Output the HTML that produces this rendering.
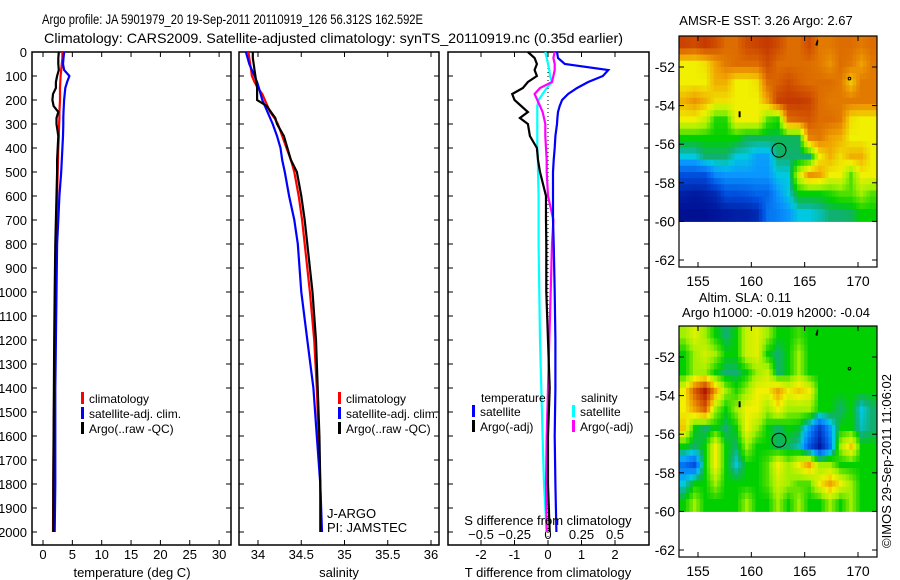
<!DOCTYPE html>
<html><head><meta charset="utf-8"><style>
body{margin:0;background:#fff;}
svg{display:block;font-family:"Liberation Sans",sans-serif;}
</style></head><body>
<svg id="c" width="900" height="580" viewBox="0 0 900 580">
<text x="42" y="24" font-size="14" textLength="381" lengthAdjust="spacingAndGlyphs">Argo profile: JA 5901979_20 19-Sep-2011 20110919_126 56.312S 162.592E</text>
<text x="44" y="43" font-size="14" textLength="579" lengthAdjust="spacingAndGlyphs">Climatology: CARS2009. Satellite-adjusted climatology: synTS_20110919.nc (0.35d earlier)</text>
</svg>
<script>
const depths=[0,25,50,75,100,125,150,175,200,225,250,275,300,350,400,450,500,600,700,800,1000,1200,1400,1600,1800,2000];
const tClim=[3.3,3.3,3.2,3.1,3.0,2.95,2.9,2.9,2.9,2.85,2.8,2.8,2.75,2.7,2.6,2.55,2.5,2.4,2.3,2.2,2.1,2.0,1.9,1.8,1.75,1.7];
const tSat=[3.6,3.5,3.4,3.6,4.5,4.1,3.8,3.7,3.6,3.55,3.5,3.45,3.45,3.4,3.3,3.2,3.1,2.8,2.6,2.4,2.3,2.2,2.1,2.1,2.1,2.0];
const tArgo=[2.7,2.6,2.6,2.7,2.4,2.2,2.2,1.7,1.6,1.8,2.6,2.3,2.3,2.6,2.5,2.4,2.4,2.3,2.2,2.1,2.0,1.9,1.85,1.8,1.75,1.75];
const sClim=[33.89,33.9,33.91,33.92,33.93,33.96,34.0,34.05,34.08,34.11,34.14,34.19,34.23,34.28,34.33,34.38,34.42,34.47,34.51,34.54,34.6,34.65,34.68,34.7,34.72,34.73];
const sSat=[33.86,33.88,33.9,33.93,33.96,33.99,34.01,34.03,34.05,34.08,34.11,34.14,34.17,34.22,34.26,34.28,34.31,34.36,34.42,34.46,34.5,34.57,34.64,34.68,34.72,34.74];
const sArgo=[33.94,33.94,33.95,33.96,33.97,33.98,33.99,33.99,33.99,34.1,34.15,34.2,34.22,34.3,34.34,34.38,34.45,34.5,34.54,34.57,34.63,34.67,34.69,34.71,34.72,34.72];
const dTSat=[0.27,0.3,0.5,1.8,1.64,1.2,0.87,0.6,0.42,0.35,0.3,0.28,0.27,0.22,0.2,0.17,0.15,0.15,0.15,0.17,0.2,0.22,0.22,0.2,0.22,0.25];
const dTArgo=[-0.6,-0.4,-0.33,-0.4,-0.33,-0.6,-0.75,-1.07,-1.0,-0.8,-0.6,-0.84,-0.6,-0.54,-0.33,-0.3,-0.24,-0.06,-0.06,-0.05,-0.05,0,0.05,0,0,0.05];
const dSArgo=[0.05,0.04,0.05,0.05,0.04,0.03,-0.06,-0.1,-0.08,-0.06,-0.04,-0.03,-0.02,-0.02,-0.015,-0.01,-0.01,0.0,0.04,0.03,0.02,0.01,0,-0.01,-0.015,-0.01];
const dSSat=[-0.02,-0.01,0,0.01,0.015,0.03,-0.01,-0.04,-0.07,-0.08,-0.08,-0.08,-0.08,-0.08,-0.08,-0.075,-0.075,-0.07,-0.07,-0.07,-0.065,-0.06,-0.05,-0.04,-0.03,-0.01];
const depthTicks=[0,100,200,300,400,500,600,700,800,900,1000,1100,1200,1300,1400,1500,1600,1700,1800,1900,2000];
const tempTicks=[0,5,10,15,20,25,30];
const salTicks=[34,34.5,35,35.5,36];
const dTTicks=[-2,-1,0,1,2];
const dSTicks=[-0.5,-0.25,0,0.25,0.5];
const dSLabels=['\u22120.5','\u22120.25','0','0.25','0.5'];
const sstGrid=[
[8.6,8.4,8.8,8.4,7.8,7.8,8.4,8.6,8.8,8.4,7.8,7.8,8.4,7.6,7.6,7.8,7.8,7.6,7.8],
[6,6,6.2,7,7.6,7.8,7.8,7.8,8.4,7.8,7.8,7.8,7.8,7.6,7.2,7.8,7.6,7,7.6],
[6,6,6,6.8,6.8,6,6,6.2,7.8,8,8.4,8,7.8,7.8,7.8,7.6,6.5,7.6,7.6],
[6.8,7.2,6.8,6.2,6.2,6,6,6,7,8.6,8.8,8.8,8.6,7.8,7.6,7.6,7.6,7.6,7.6],
[6,6,5.5,4.2,4.2,6,6,6,4.5,4.2,7.8,8,8.2,7.8,7.8,7.6,6.2,6,6],
[4,4,4,4,4,4,3.6,3.6,3.6,3.6,3.6,3.6,7.4,7.6,7,6.8,6,6,6],
[3,3,3.5,3.5,3.5,3,3,2.6,2.6,3.5,3.5,3.5,3.5,6,6.8,6.2,6.8,6.8,6],
[1.5,1.5,1.5,2.3,2.5,2.5,2.5,2.5,2.5,3,3,5.5,7.2,7,6,6,4.5,6,6],
[0.6,0.5,0.6,0.8,1.5,1.5,1.6,1.8,1.8,2.5,3,4,4,4,4.2,4.5,4.5,5,4.5],
[0.3,0.3,0.3,0.4,0.5,0.6,0.6,0.8,2,2.2,2.5,3,3,3.2,3.5,3.5,3.6,4,4]];
const slaGrid=[
[5,5.8,5,4,3.5,4,5.5,5.8,5,4,4,4.4,4,4,4,4,4,4,4],
[4,5,5.6,5,4,4,5.5,5.8,4,3.5,4,5,4,4,4,4,4,4,4],
[4,5,5,4,3.5,3.5,4,5,5.5,3.5,4,5,4,4,4,4,4,4,4],
[6,8,9.5,7,5,4.2,5,6,6,7,6,6.5,6,4,4,4,4,4,4],
[6,7,8,5,4,5,6,6,5,6,5,5,5,4,4,3.5,4,3,3.5],
[6.5,4,3.5,4,3.5,4,6,5,4,3.5,4,3.8,2.5,1.2,2.5,4,4,3.2,3.5],
[4,3.5,4,6,4,3.5,5,4,4,3.6,3.6,3.2,1.6,0.5,2,5,6.5,4,4],
[2,1.5,4,6,4,3,4,4,4.5,6,5,6,7,5,5,4,4,4,4],
[3,4,4,5,4,4,4,4,4.5,5.5,5,4.5,4.5,6,7,6,5,4,4],
[4,5,4,4,4,4,5,4,4,5,4,5,4,4,5,4,5,4,4]];
const lonTicks=[155,160,165,170];
const latTicks=[-52,-54,-56,-58,-60,-62];
const argoLon=162.592, argoLat=-56.312;

const S=document.getElementById('c');const NS='http://www.w3.org/2000/svg';
function mk(t,a,p){const e=document.createElementNS(NS,t);for(const k in a)e.setAttribute(k,a[k]);(p||S).appendChild(e);return e;}
function txt(x,y,s,anchor,fs){const e=mk('text',{x:x,y:y,'font-size':fs||13,'text-anchor':anchor||'start'});e.textContent=s;return e;}
const yD=d=>52+0.24*d;
const BOT=545;
function panel(x0,x1,name){const r=mk('rect',{x:x0,y:52,width:x1-x0,height:BOT-52,fill:'none',stroke:'#000','stroke-width':1.5});


depthTicks.forEach(d=>{mk('line',{x1:x0,x2:x0+5,y1:yD(d),y2:yD(d),stroke:'#000'});mk('line',{x1:x1-5,x2:x1,y1:yD(d),y2:yD(d),stroke:'#000'});});}
function series(xf,vals,color,name,w){let p='';vals.forEach((v,i)=>{p+=(i?'L':'M')+xf(v).toFixed(1)+','+yD(depths[i]).toFixed(1);});
const e=mk('path',{d:p,fill:'none',stroke:color,'stroke-width':w||2.2});

}
function xticks(x0,x1,ticks,xf,fmt,ylab,name){ticks.forEach(t=>{const x=xf(t);mk('line',{x1:x,x2:x,y1:BOT-5,y2:BOT,stroke:'#000'});mk('line',{x1:x,x2:x,y1:52,y2:57,stroke:'#000'});
const e=txt(x,ylab,fmt(t),'middle');

});}
function legend(x,y,items){items.forEach((it,i)=>{mk('rect',{x:x,y:y+i*15-11,width:3,height:12,fill:it[0]});const e=txt(x+8,y+i*15,it[1],'start',12);

});}

depthTicks.forEach(d=>{const e=txt(27,yD(d)+5,String(d),'end',13);

});

const xT=t=>43+5.87*t;
panel(32,231,'temperature-panel');
xticks(32,231,tempTicks,xT,String,559,'temp-tick-label');
series(xT,tClim,'#f00','temp-climatology');series(xT,tSat,'#00f','temp-satellite');series(xT,tArgo,'#000','temp-argo');
let e=txt(132,577,'temperature (deg C)','middle');
legend(81,403,[['#f00','climatology'],['#00f','satellite-adj. clim.'],['#000','Argo(..raw -QC)']]);

const xS=s=>258+86.5*(s-34);
panel(239,439,'salinity-panel');
xticks(239,439,salTicks,xS,String,559,'sal-tick-label');
series(xS,sClim,'#f00','sal-climatology');series(xS,sSat,'#00f','sal-satellite');series(xS,sArgo,'#000','sal-argo');
e=txt(339,577,'salinity','middle');
legend(338,403,[['#f00','climatology'],['#00f','satellite-adj. clim.'],['#000','Argo(..raw -QC)']]);
e=txt(327,518,'J-ARGO','start',13);
e=txt(327,532,'PI: JAMSTEC','start',13);

const xDT=t=>548+33.5*t, xDS=s=>548+134*s;
panel(448,649,'difference-panel');
mk('line',{x1:548,x2:548,y1:52,y2:BOT,stroke:'#000','stroke-dasharray':'1,3'});
xticks(448,649,dTTicks,xDT,String,559,'dT-tick-label');
dSTicks.forEach((t,i)=>{const e=txt(xDS(t),539,dSLabels[i],'middle',13);

});
series(xDS,dSSat,'#0ff','dS-satellite');series(xDS,dSArgo,'#f0f','dS-argo');
series(xDT,dTSat,'#00f','dT-satellite');series(xDT,dTArgo,'#000','dT-argo');
e=txt(548,525,'S difference from climatology','middle',13);
e=txt(548,577,'T difference from climatology','middle',13);
e=txt(481,402,'temperature','start',12);
e=txt(581,402,'salinity','start',12);
legend(472,416,[['#00f','satellite'],['#000','Argo(-adj)']]);
legend(572,416,[['#0ff','satellite'],['#f0f','Argo(-adj)']]);

const stops=[[0,[0,0,128]],[1.5,[0,80,224]],[2.5,[10,150,255]],[3,[0,200,224]],[3.5,[16,176,112]],[4,[0,208,0]],[5,[160,240,0]],[6,[240,240,0]],[7,[240,160,0]],[8,[216,96,0]],[9,[192,48,0]],[10,[160,0,0]]];
function col(v){for(let i=1;i<stops.length;i++){if(v<=stops[i][0]){const a=stops[i-1],b=stops[i],f=(v-a[0])/(b[0]-a[0]);return 'rgb('+a[1].map((c,k)=>Math.round(c+(b[1][k]-c)*f)).join(',')+')';}}return 'rgb(160,0,0)';}
function sample(grid,fr,fc){const R=grid.length,C=grid[0].length;
 fr=Math.max(0,Math.min(R-1,fr));fc=Math.max(0,Math.min(C-1,fc));
 const r0=Math.floor(fr),c0=Math.floor(fc),r1=Math.min(R-1,r0+1),c1=Math.min(C-1,c0+1),a=fr-r0,b=fc-c0;
 return grid[r0][c0]*(1-a)*(1-b)+grid[r0][c1]*(1-a)*b+grid[r1][c0]*a*(1-b)+grid[r1][c1]*a*b;}
function map(y0,grid,name){
 const X0=679,X1=877,Y1=y0+231;
 const xL=lon=>698+(lon-155)*10.667, yL=lat=>y0+31+(-52-lat)*19.3;
 const R=grid.length,C=grid[0].length,SUB=3;
 const cw=(X1-X0)/(C*SUB), ch=(yL(-60)-y0)/(R*SUB);
 const g=mk('g',{});
 
 
 for(let r=0;r<R*SUB;r++)for(let c=0;c<C*SUB;c++){
  const v=sample(grid,(r+0.5)/SUB-0.5,(c+0.5)/SUB-0.5);
  const cell=mk('rect',{x:(X0+c*cw).toFixed(2),y:(y0+r*ch).toFixed(2),width:(cw+0.5).toFixed(2),height:(ch+0.5).toFixed(2),fill:col(v)},g);
  
  }
 mk('rect',{x:X0,y:y0,width:X1-X0,height:Y1-y0,fill:'none',stroke:'#000','stroke-width':1.2});
 lonTicks.forEach(l=>{const x=xL(l);mk('line',{x1:x,x2:x,y1:y0,y2:y0+5,stroke:'#000'});mk('line',{x1:x,x2:x,y1:Y1-5,y2:Y1,stroke:'#000'});
 const t=txt(x,Y1+19,String(l),'middle',14);});
 latTicks.forEach(l=>{const y=yL(l);mk('line',{x1:X0,x2:X0+5,y1:y,y2:y,stroke:'#000'});mk('line',{x1:X1-5,x2:X1,y1:y,y2:y,stroke:'#000'});
 const t=txt(X0-4,y+5,'-'+String(-l),'end',14);});
 const c=mk('circle',{cx:xL(argoLon),cy:yL(argoLat),r:7,fill:'none',stroke:'#000','stroke-width':1});
 
 
 mk('path',{d:`M${xL(166)},${y0+9} l2,-6 l1,2 l-1,5z`,fill:'#000'});
 mk('circle',{cx:xL(169.2),cy:yL(-52.6),r:1.3,fill:'none',stroke:'#000'});
 mk('rect',{x:xL(158.9)-1,y:yL(-54.5)-4,width:2,height:6,fill:'#000'});
}
map(36,sstGrid,'sst-map');
e=txt(766,25,'AMSR-E SST: 3.26 Argo: 2.67','middle',13);
map(326,slaGrid,'sla-map');
e=txt(745,302,'Altim. SLA: 0.11','middle',13);
e=txt(776,317,'Argo h1000: -0.019 h2000: -0.04','middle',13);
e=txt(0,0,'\u00a9IMOS 29-Sep-2011 11:06:02','middle',13);e.setAttribute('transform','translate(891,461) rotate(-90)');

</script>
</body></html>
